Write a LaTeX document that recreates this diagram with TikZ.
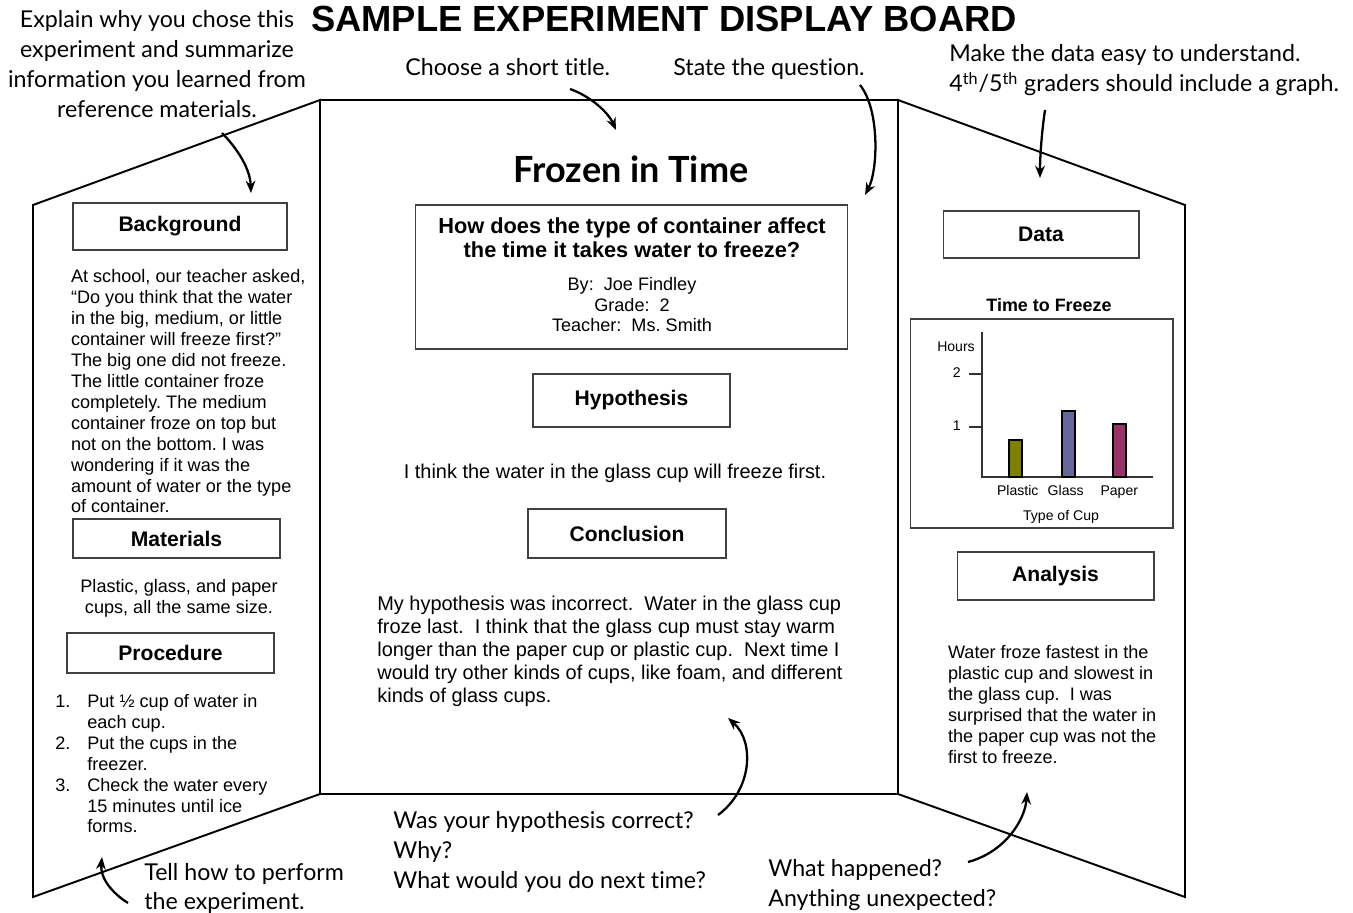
\documentclass[tikz,border=0pt]{standalone}
\usepackage{fontspec}
\setmainfont{Liberation Sans}
\newfontfamily\handfont[Ligatures=NoCommon]{Lato}
\usetikzlibrary{arrows.meta}

\definecolor{plasticbar}{HTML}{808000}
\definecolor{glassbar}{HTML}{666699}
\definecolor{paperbar}{HTML}{993366}

\begin{document}
\frenchspacing
\begin{tikzpicture}[x=0.02cm, y=-0.02cm,
      headbox/.style ={draw=black!75, line width=0.6pt, inner sep=0pt, font=\fontsize{12}{14}\selectfont\bfseries},
      bodytext/.style ={inner sep=0pt, align=left, font=\fontsize{10.3}{11.9}\selectfont},
      note/.style ={inner sep=0pt, align=left, font=\handfont\fontsize{13.2}{17.1}\selectfont},
      pointer/.style ={line width=1.3pt, -{Stealth[length=7pt, width=5.5pt]}},
      panel/.style ={line width=1.1pt, line join=miter},
      chartlabel/.style ={inner sep=0pt, font=\fontsize{8}{9.6}\selectfont}]
   \useasboundingbox (0,0) rectangle (1353,913);

   \draw[panel] (33,205) -- (320,100) -- (320,794) -- (33,897) -- cycle;
   \draw[panel] (320,100) rectangle (898,794);
   \draw[panel] (898,100) -- (1185,205) -- (1185,897) -- (898,794) -- cycle;

   \node[inner sep=0pt, anchor=base, font=\fontsize{20.7}{24}\selectfont\bfseries] (title) at (664,31) {SAMPLE EXPERIMENT DISPLAY BOARD};

   \node[headbox, minimum width=4.28cm, minimum height=0.94cm] (background) at (180,226.5) {Background};
   \node[bodytext, anchor=north west] (bgtext) at (70.7,269.5) {At school, our teacher asked,\\ “Do you think that the water\\ in the big, medium, or little\\ container will freeze first?”\\ The big one did not freeze.\\ The little container froze\\ completely. The medium\\ container froze on top but\\ not on the bottom. I was\\ wondering if it was the\\ amount of water or the type\\ of container.};
   \node[headbox, minimum width=4.14cm, minimum height=0.78cm] (materials) at (176.5,538.5) {Materials};
   \node[bodytext, align=center, anchor=north] (mattext) at (179,579) {Plastic, glass, and paper\\ cups, all the same size.};
   \node[headbox, minimum width=4.14cm, minimum height=0.8cm] (procedure) at (170.5,653) {Procedure};
   \node[bodytext, anchor=north west] (proctext) at (55,694) {\makebox[0.64cm][l]{1.}Put ½ cup of water in\\ \hspace*{0.64cm}each cup.\\ \makebox[0.64cm][l]{2.}Put the cups in the\\ \hspace*{0.64cm}freezer.\\ \makebox[0.64cm][l]{3.}Check the water every\\ \hspace*{0.64cm}15 minutes until ice\\ \hspace*{0.64cm}forms.};

   \node[inner sep=0pt, anchor=base, font=\handfont\bfseries\fontsize{20.5}{24}\selectfont] (boardtitle) at (631,182) {Frozen in Time};
   \node[draw=black!75, line width=0.6pt, minimum width=8.66cm, minimum height=2.88cm, inner sep=0pt] (question) at (631.5,277) {};
   \node[inner sep=0pt, align=center, anchor=north, font=\fontsize{12.4}{13.8}\selectfont\bfseries] (qtext) at (632,217) {How does the type of container affect\\ the time it takes water to freeze?};
   \node[bodytext, align=center, anchor=north, font=\fontsize{10.3}{11.6}\selectfont] (byline) at (632,277.3) {By:\ \ Joe Findley\\ Grade:\ \ 2\\ Teacher:\ \ Ms. Smith};
   \node[headbox, minimum width=3.94cm, minimum height=1.06cm] (hypothesis) at (631.5,400.5) {Hypothesis};
   \node[inner sep=0pt, anchor=base, font=\fontsize{11.35}{13}\selectfont] (hyptext) at (615,478) {I think the water in the glass cup will freeze first.};
   \node[headbox, minimum width=3.96cm, minimum height=0.98cm] (conclusion) at (627,533.5) {Conclusion};
   \node[bodytext, anchor=north west, font=\fontsize{11.35}{13.1}\selectfont] (context) at (377,596) {My hypothesis was incorrect.\ \ Water in the glass cup\\ froze last.\ \ I think that the glass cup must stay warm\\ longer than the paper cup or plastic cup.\ \ Next time I\\ would try other kinds of cups, like foam, and different\\ kinds of glass cups.};

   \node[headbox, minimum width=3.92cm, minimum height=0.94cm] (data) at (1041,234.5) {Data};
   \node[inner sep=0pt, anchor=base, font=\fontsize{10.2}{12}\selectfont\bfseries] (charttitle) at (1049,311.7) {Time to Freeze};
   \node[draw=black!75, line width=0.6pt, minimum width=5.26cm, minimum height=4.18cm, inner sep=0pt] (chart) at (1041.5,423.5) {};
   \draw[line width=0.8pt, black!80] (982,332) -- (982,477) -- (1153,477);
   \draw[line width=0.8pt, black!80] (969,374) -- (982,374);
   \draw[line width=0.8pt, black!80] (969,427) -- (982,427);
   \draw[line width=0.7pt, fill=plasticbar] (1009,477) rectangle (1022,440);
   \draw[line width=0.7pt, fill=glassbar] (1062,477) rectangle (1075,411);
   \draw[line width=0.7pt, fill=paperbar] (1113,477) rectangle (1126,424);
   \node[chartlabel, anchor=base] (hours) at (956,351.7) {Hours};
   \node[chartlabel, anchor=base east] (ytwo) at (961,377.7) {2};
   \node[chartlabel, anchor=base east] (yone) at (961,430.7) {1};
   \node[chartlabel, anchor=base] (plastic) at (1017.7,495) {Plastic};
   \node[chartlabel, anchor=base] (glass) at (1065.7,495) {Glass};
   \node[chartlabel, anchor=base] (paper) at (1119.3,495) {Paper};
   \node[chartlabel, anchor=base] (cuptype) at (1061,520.7) {Type of Cup};
   \node[headbox, minimum width=3.94cm, minimum height=0.96cm] (analysis) at (1055.5,576) {Analysis};
   \node[bodytext, anchor=north west] (antext) at (947.7,645) {Water froze fastest in the\\ plastic cup and slowest in\\ the glass cup.\ \ I was\\ surprised that the water in\\ the paper cup was not the\\ first to freeze.};

   \node[note, align=center, anchor=north] (explain) at (157,9.8) {Explain why you chose this\\ experiment and summarize\\ information you learned from\\ reference materials.};
   \node[note, anchor=base west] (choose) at (405,75) {Choose a short title.};
   \node[note, anchor=base west] (state) at (673,75) {State the question.};
   \node[note, anchor=north west] (makedata) at (949,44.5) {Make the data easy to understand.\\ 4\textsuperscript{th}/5\textsuperscript{th} graders should include a graph.};
   \node[note, anchor=north west] (wascorrect) at (393,810.8) {Was your hypothesis correct?\\ Why?\\ What would you do next time?};
   \node[note, anchor=north west] (happened) at (768,859.5) {What happened?\\ Anything unexpected?};
   \node[note, anchor=north west, font=\handfont\fontsize{13.2}{16.1}\selectfont] (tellhow) at (144,863.5) {Tell how to perform\\ the experiment.};

   \coordinate (explaintail) at (222,133);
   \coordinate (explainhead) at (251,193);
   \coordinate (choosetail) at (570,89);
   \coordinate (choosehead) at (616,130);
   \coordinate (statetail) at (860,85);
   \coordinate (statehead) at (865,195);
   \coordinate (datatail) at (1045,110);
   \coordinate (datahead) at (1040,178);
   \coordinate (correcttail) at (718,815);
   \coordinate (correcthead) at (728,718);
   \coordinate (happenedtail) at (968,862);
   \coordinate (happenedhead) at (1027,792);
   \coordinate (tellhowtail) at (128,903);
   \coordinate (tellhowhead) at (102,857);

   \draw[pointer] (explaintail) .. controls (232,143) and (250,165) .. (explainhead);
   \draw[pointer] (choosetail) .. controls (590,96) and (608,112) .. (choosehead);
   \draw[pointer] (statetail) .. controls (880,110) and (878,170) .. (statehead);
   \draw[pointer] (datatail) .. controls (1042,130) and (1040,155) .. (datahead);
   \draw[pointer] (correcttail) .. controls (752,790) and (755,742) .. (correcthead);
   \draw[pointer] (happenedtail) .. controls (1005,852) and (1025,820) .. (happenedhead);
   \draw[pointer] (tellhowtail) .. controls (112,893) and (100,878) .. (tellhowhead);

 \end{tikzpicture}
\end{document}
